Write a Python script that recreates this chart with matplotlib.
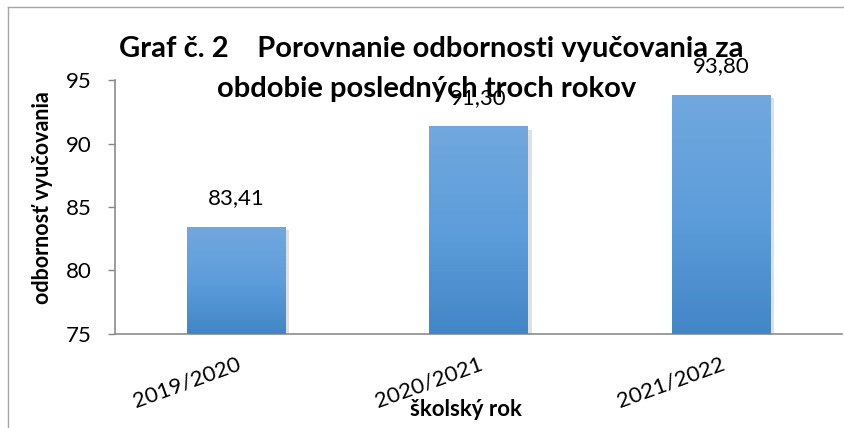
import numpy as np
import matplotlib
matplotlib.use("Agg")
import matplotlib.pyplot as plt
from matplotlib.colors import LinearSegmentedColormap
from matplotlib import patheffects as pe
from matplotlib.lines import Line2D

categories = ["2019/2020", "2020/2021", "2021/2022"]
values = [83.41, 91.30, 93.80]
value_labels = ["83,41", "91,30", "93,80"]
yticks = [75, 80, 85, 90, 95]
title_lines = ["Graf č. 2    Porovnanie odbornosti vyučovania za",
               "obdobie posledných troch rokov"]
ylabel = "odbornosť vyučovania"
xlabel = "školský rok"

FONT = ["Lato", "DejaVu Sans"]
plt.rcParams["font.family"] = FONT

W, H = 844, 428
fig = plt.figure(figsize=(W / 100, H / 100), dpi=100)
ax = fig.add_axes([115 / W, 1 - 334 / H, (842 - 115) / W, (334 - 80) / H])

x = np.arange(len(categories))
bars = ax.bar(x, [v - 75 for v in values], bottom=75, width=0.405,
              color="#5b9bd5", zorder=2)
for b in bars:
    b.set_path_effects([pe.SimplePatchShadow(offset=(3, -2), shadow_rgbFace="#9a9a9a", alpha=0.3), pe.Normal()])

cmap = LinearSegmentedColormap.from_list("g", ["#4286c7", "#5d9ddb", "#71a8de"])
grad = np.linspace(0, 1, 256).reshape(-1, 1)
for b in bars:
    x0, w = b.get_x(), b.get_width()
    y0, h = b.get_y(), b.get_height()
    ax.imshow(grad, extent=[x0, x0 + w, y0, y0 + h], origin="lower", aspect="auto",
              cmap=cmap, zorder=3)

for b, lab in zip(bars, value_labels):
    ax.annotate(lab, (b.get_x() + b.get_width() / 2, b.get_y() + b.get_height()),
                xytext=(0, 19), textcoords="offset pixels", ha="center", va="bottom",
                fontsize=16, color="black", zorder=1)

ax.set_xlim(-0.5, len(categories) - 0.5)
ax.set_ylim(75, 95)
ax.set_yticks(yticks)
ax.set_yticklabels([str(t) for t in yticks], fontsize=16)
ax.set_xticks(x)
ax.set_xticklabels(categories, fontsize=16, rotation=20, ha="right", rotation_mode="anchor")
ax.tick_params(axis="x", length=0, pad=14)
ax.tick_params(axis="y", length=5, width=1, color="#868686", pad=12, direction="out")
for s in ["top", "right"]:
    ax.spines[s].set_visible(False)
for s in ["left", "bottom"]:
    ax.spines[s].set_color("#8c8c8c")
    ax.spines[s].set_linewidth(1.2)

fig.text(43 / W, 1 - 198 / H, ylabel, rotation=90, ha="center", va="center",
         fontsize=15.5, fontweight="bold")
fig.text(466 / W, 1 - 409 / H, xlabel, ha="center", va="center", fontsize=16, fontweight="bold")

fig.text(431 / W, 1 - 57 / H, title_lines[0], ha="center", va="baseline", fontsize=21,
         fontweight="bold", zorder=5)
fig.text(427 / W, 1 - 97 / H, title_lines[1], ha="center", va="baseline", fontsize=21,
         fontweight="bold", zorder=5)

fig.add_artist(Line2D([8 / W, 8 / W], [0, 1 - 7 / H], color="#a6a6a6", lw=1, transform=fig.transFigure))
fig.add_artist(Line2D([8 / W, 1], [1 - 7 / H, 1 - 7 / H], color="#a6a6a6", lw=1, transform=fig.transFigure))

fig.savefig("out.png", dpi=100)
